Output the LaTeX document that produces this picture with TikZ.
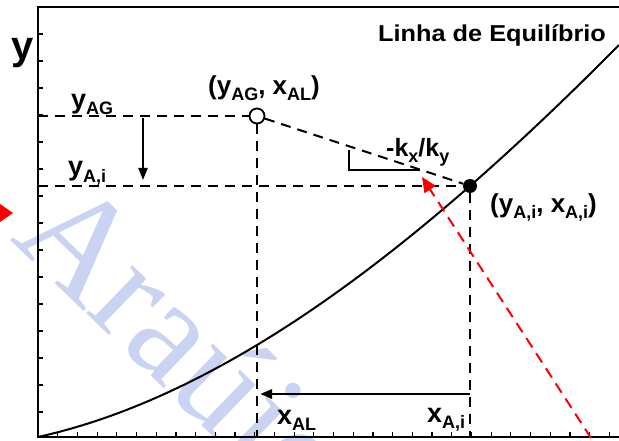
\documentclass[tikz,border=0pt]{standalone}
\usepackage{fontspec}
\setmainfont{Liberation Sans}
\newfontfamily\wmfont{Liberation Serif}
\usetikzlibrary{arrows.meta, positioning}

\definecolor{wmblue}{RGB}{203,211,242}
\newcommand{\dn}[1]{\raisebox{-6pt}{\fontsize{18}{18}\selectfont #1}}

\tikzset{
	lbl/.style={anchor=base west, inner sep=0pt, font=\fontsize{27}{27}\selectfont\bfseries},
	guide/.style={line width=2pt, dash pattern=on 10pt off 7pt},
	arr/.style={line width=2.2pt, -{Triangle[length=12pt, width=9pt]}}
}

\begin{document}
\begin{tikzpicture}[x=1pt, y=-1pt]
	\useasboundingbox (0,0) rectangle (619,441);

	% watermark
	\node[anchor=base west, inner sep=0pt, rotate=-44, text=wmblue,
		font=\fontsize{145}{145}\wmfont] (wm) at (9,239) {Araújo};
	\fill[red] (0,204) -- (13,213) -- (0,222) -- cycle;

	% frame and ticks
	\coordinate (o) at (38,437);
	\draw[line width=2pt] (619,7) -- (38,7) -- (o) -- (619,437);
	\foreach \t in {34,61,...,412}
		\draw[line width=1.2pt] (38,\t) -- (43,\t);
	\foreach \i in {1,...,29}
		\draw[line width=1.2pt] ({38+19.7*\i},437) -- ({38+19.7*\i},432);

	% equilibrium line (u = x/100)
	\draw[line width=2pt] plot[domain=0:5.81, samples=80]
		({38+100*\x}, {437-22.148*\x-9.836*\x*\x+0.3503*\x*\x*\x});

	% points
	\node[circle, draw, line width=1.8pt, fill=white, minimum size=15pt, inner sep=0pt] (g) at (257,116) {};
	\node[circle, fill, minimum size=14pt, inner sep=0pt] (i) at (470,186) {};
	\coordinate (yg) at (38,116);
	\coordinate (yi) at (38,186);
	\coordinate (xl) at (257,437);
	\coordinate (xi) at (470,437);

	\draw[guide] (yg) -- (g);
	\draw[guide] (yi) -- (i);
	\draw[guide] (g) -- (i);
	\draw[guide] (g) -- (xl);
	\draw[guide] (i) -- (xi);

	% slope mark
	\coordinate (s1) at (349,150);
	\coordinate (s2) at (420,170);
	\draw[line width=1.2pt] (s1) |- (s2);

	% arrows
	\coordinate (a1) at (143,118);
	\coordinate (a2) at (143,180);
	\draw[arr] (a1) -- (a2);
	\coordinate (b1) at (470,394);
	\coordinate (b2) at (260,394);
	\draw[arr, line width=2.8pt] (b1) -- (b2);
	\coordinate (r0) at (591,438);
	\coordinate (r1) at (422,177);
	\draw[red, line width=2pt, dash pattern=on 11pt off 7pt,
		-{Triangle[length=15pt, width=13pt]}] (r0) -- (r1);

	% labels
	\node[lbl, font=\fontsize{40}{40}\selectfont\bfseries] (ylab) at (11,60) {y};
	\node[lbl] (lyg) at (71,109) {y\dn{AG}};
	\node[lbl] (lyi) at (68,176) {y\dn{A,i}};
	\node[lbl, font=\fontsize{26}{26}\selectfont\bfseries] (lg) at (208,95) {(y\dn{AG}, x\dn{AL})};
	\node[lbl, font=\fontsize{26}{26}\selectfont\bfseries] (li) at (490,212) {(y\dn{A,i}, x\dn{A,i})};
	\node[lbl, font=\fontsize{25}{25}\selectfont\bfseries] (lk) at (386,157) {-k\dn{x}/k\dn{y}};
	\node[lbl] (lxl) at (277,424) {x\dn{AL}};
	\node[lbl] (lxi) at (427,422) {x\dn{A,i}};
	\node[lbl, xscale=1.1, font=\fontsize{23}{23}\selectfont\bfseries] (eq) at (378,42) {Linha de Equilíbrio};
\end{tikzpicture}
\end{document}
